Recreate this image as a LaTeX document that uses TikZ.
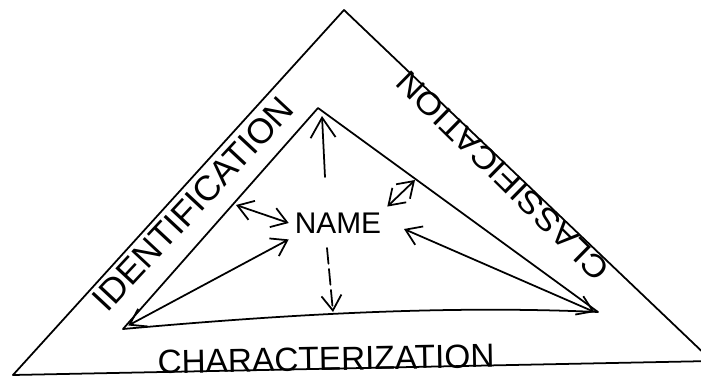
\documentclass[tikz,border=0pt]{standalone}
\usepackage{fontspec}
\setmainfont{Liberation Sans}
\usetikzlibrary{arrows.meta}

\begin{document}
\begin{tikzpicture}[x=0.02cm,y=-0.02cm, line width=1pt, line cap=round, line join=round,
  lbl/.style={font=\fontsize{20}{20}\selectfont,inner sep=0pt},
  tip/.style={-{Straight Barb[length=3mm,width=4mm]}},
  tips/.style={{Straight Barb[length=3mm,width=4mm]}-{Straight Barb[length=3mm,width=4mm]}}]
  \useasboundingbox (0,0) rectangle (701,379);
  % outer triangle
  \coordinate (oL) at (13,375); \coordinate (oT) at (344,10); \coordinate (oR) at (712,361);
  \draw (oL) -- (oT) -- (oR);
  \draw (oL) -- (oR);
  % inner triangle
  \coordinate (iT) at (318,108); \coordinate (iL) at (123,329); \coordinate (iR) at (598,312);
  \draw (iR) -- (iT) -- (iL) .. controls (280,315) and (440,305) .. (iR);
  % labels on the sides
  \node[lbl,rotate=47] (ident) at (193,204) {IDENTIFICATION};
  \node[lbl,font=\fontsize{18}{18}\selectfont,rotate=135.5,xscale=1.1] (class) at (503,176) {CLASSIFICATION};
  \node[lbl,font=\fontsize{19}{19}\selectfont,rotate=1] (charac) at (326,359) {CHARACTERIZATION};
  % centre
  \node[lbl,font=\fontsize{17}{17}\selectfont,inner sep=3pt] (nm) at (338,223) {NAME};
  \coordinate (upS) at (325,177); \coordinate (upE) at (322,116);
  \coordinate (dnS) at (327,248); \coordinate (dnE) at (333,312);
  \coordinate (lfE) at (236,205);
  \coordinate (rtE) at (415,180);
  \coordinate (reS) at (404,229);
  % arrows
  \draw[-{Straight Barb[length=4mm,width=5mm]}] (upS) -- (upE);
  \draw[tip,dashed,dash pattern=on 9pt off 3pt] (dnS) -- (dnE);
  \draw[tips] (lfE) -- (nm.west);
  \draw[tips] ([xshift=3pt,yshift=2pt]iL) -- (nm.south west);
  \draw[tips] (nm.north east) -- (rtE);
  \draw[tips] (reS) -- ([xshift=-2pt]iR);
\end{tikzpicture}
\end{document}
